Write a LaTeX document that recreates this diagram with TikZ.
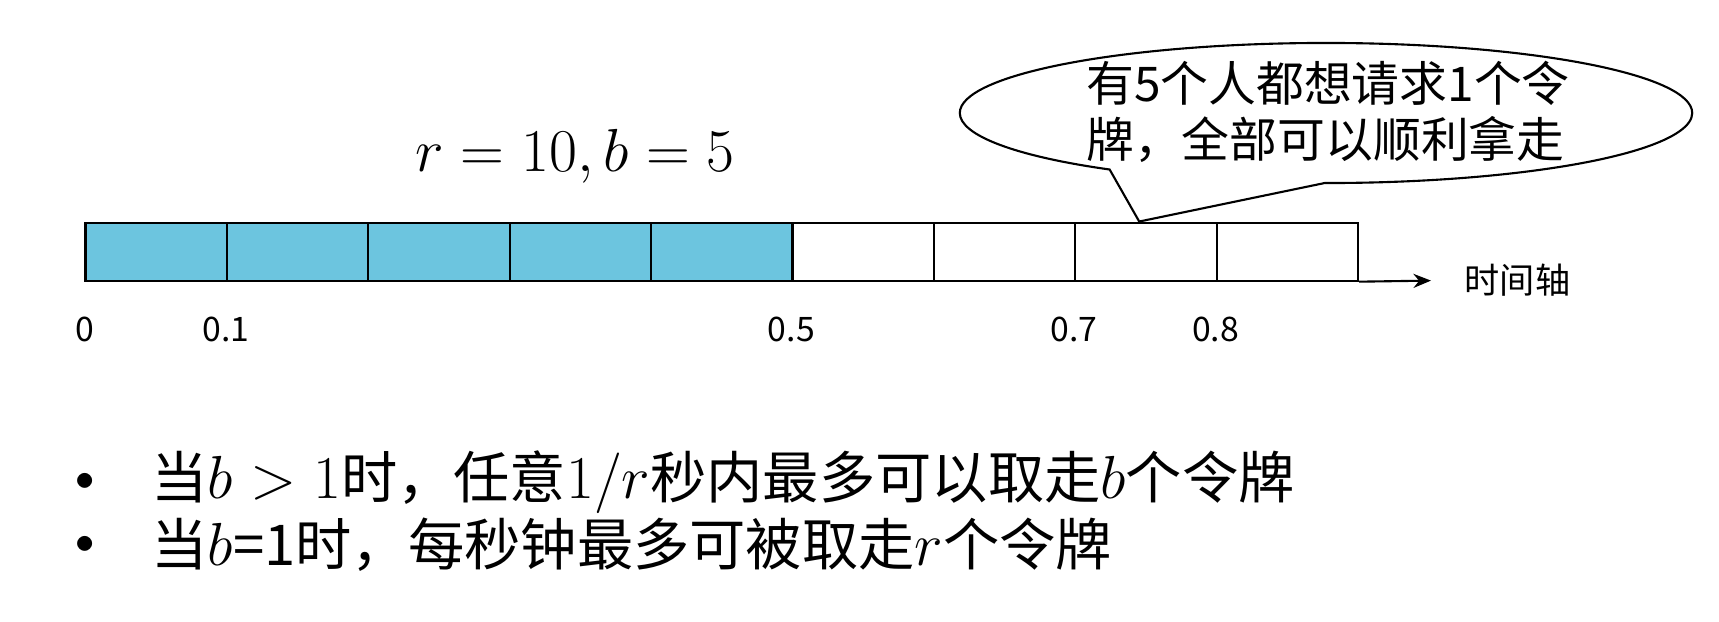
\documentclass[tikz,border=0pt]{standalone}
\usepackage{fontspec}
\setmainfont{Noto Sans CJK SC}
\usepackage{tikz}
\usetikzlibrary{positioning,arrows.meta,shapes,calc}
\definecolor{Token}{HTML}{6CC5DF}

\tikzset{
  cell/.style={draw,line width=0.6pt,minimum width=1.414cm,minimum height=0.58cm,inner sep=0pt},
  fullcell/.style={cell,fill=Token},
  tick/.style={font=\fontsize{9.6}{11}\selectfont,inner sep=0pt},
  item/.style={font=\fontsize{16}{19}\selectfont,anchor=west,inner sep=0pt},
  dot/.style={font=\fontsize{11}{13}\selectfont,inner sep=0pt}
}

\begin{document}
\begin{tikzpicture}[x=0.01cm,y=-0.01cm]
        \useasboundingbox (0,0) rectangle (1719,621);
        \foreach \i in {0,...,4} {\node[fullcell] (c\i) at (156.2+141.4*\i,251.6) {};}
        \foreach \i in {5,...,8} {\node[cell] (c\i) at (156.2+141.4*\i,251.6) {};}
        \foreach \i/\t in {0/0,1/0.1,5/0.5,7/0.7,8/0.8} {\node[tick] (t\i) at ($(c\i.south west)+(0,48)$) {\t};}
        \coordinate (axisend) at (1431,280.6);
        \draw[line width=0.6pt,-{Stealth[length=5pt,width=4pt]}] (c8.south east)--(axisend);
        \node[font=\fontsize{10}{12}\selectfont,inner sep=0pt,right=0.33cm of axisend] (axislabel) {时间轴};
        \node[font=\fontsize{16.2}{19}\selectfont] (rate) at (575,156) {$r = 10, b = 5$};
        \node[ellipse callout,draw,line width=0.6pt,minimum width=7.32cm,minimum height=1.4cm,inner sep=0pt,
              callout absolute pointer={($(c7.north west)+(65,0)$)},callout pointer arc=36] (bubble) at (1326,113) {};
        \node[font=\fontsize{13.6}{15.9}\selectfont,align=left,inner sep=0pt] (ask) at ($(bubble.center)+(2,-1)$) {有5个人都想请求1个令\\牌，全部可以顺利拿走};
        \node[dot] (dot1) at (85.5,482) {$\bullet$};
        \node[dot] (dot2) at (85.5,545) {$\bullet$};
        \node[item] (rule1) at (151,482) {当$b>1$时，任意$1/r$秒内最多可以取走$b$个令牌};
        \node[item] (rule2) at (151,545) {当$b$=1时，每秒钟最多可被取走$r$个令牌};
      \end{tikzpicture}
\end{document}
